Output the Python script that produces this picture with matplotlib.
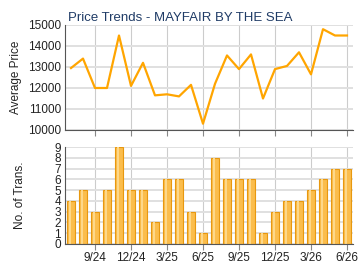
import matplotlib
matplotlib.use("Agg")
import matplotlib.pyplot as plt
import numpy as np

# monthly data, 7/24 .. 6/26
prices = [12950, 13400, 12000, 12000, 14500, 12100, 13200, 11650, 11700, 11600,
          12150, 10300, 12200, 13550, 12900, 13600, 11500, 12900, 13050, 13700,
          12650, 14800, 14500, 14500]
trans = [4, 5, 3, 5, 9, 5, 5, 2, 6, 6, 3, 1, 8, 6, 6, 6, 1, 3, 4, 4, 5, 6, 7, 7]
tick_pos = [2, 5, 8, 11, 14, 17, 20, 23]
tick_labels = ["9/24", "12/24", "3/25", "6/25", "9/25", "12/25", "3/26", "6/26"]

plt.rcParams['font.family'] = ['Liberation Sans', 'DejaVu Sans']
fig = plt.figure(figsize=(3.6, 2.7), dpi=100)
W, H = 360, 270
ax1 = fig.add_axes([65 / W, 1 - 130 / H, 288 / W, 105 / H])
ax2 = fig.add_axes([65 / W, 1 - 244 / H, 288 / W, 97 / H])

x = np.arange(len(prices))
spine_c = "#555555"

for ax in (ax1, ax2):
    ax.set_xlim(-0.5, 23.5)
    for s in ("top", "right"):
        ax.spines[s].set_visible(False)
    for s in ("left", "bottom"):
        ax.spines[s].set_color(spine_c)
    ax.set_xticks(tick_pos)
    ax.grid(True, axis="x", color="#cccccc", lw=0.8)
    ax.grid(True, axis="y", color="#e0e0e0", lw=1.4)
    ax.set_axisbelow(True)
    ax.tick_params(axis="y", length=0, labelsize=8.5, pad=3, labelcolor="#222222")
    ax.tick_params(axis="x", length=4, color="#888888", labelsize=8.5, pad=2,
                   labelcolor="#222222")

ax1.plot(x, prices, color="#ffa500", lw=1.6)
ax1.set_ylim(10000, 15000)
ax1.set_yticks(range(10000, 15001, 1000))
ax1.tick_params(axis="x", labelbottom=False)
ax1.set_ylabel("Average Price", fontsize=8.5, labelpad=4, color="#222222")
ax1.set_title("Price Trends - MAYFAIR BY THE SEA", loc="left", fontsize=9.5,
              color="#1f3b66", pad=3, x=0.01)

ax2.bar(x, trans, width=0.66, color="#fbbd4c", edgecolor="#e8980f", lw=0.8)
ax2.bar(x - 0.1, trans, width=0.2, color="#fdd88a", lw=0)
ax2.set_ylim(0, 9)
ax2.set_yticks(range(0, 10))
ax2.set_xticklabels(tick_labels)
ax2.set_ylabel("No. of Trans.", fontsize=8.5, labelpad=20, color="#222222")

fig.savefig("out.png", dpi=100)
